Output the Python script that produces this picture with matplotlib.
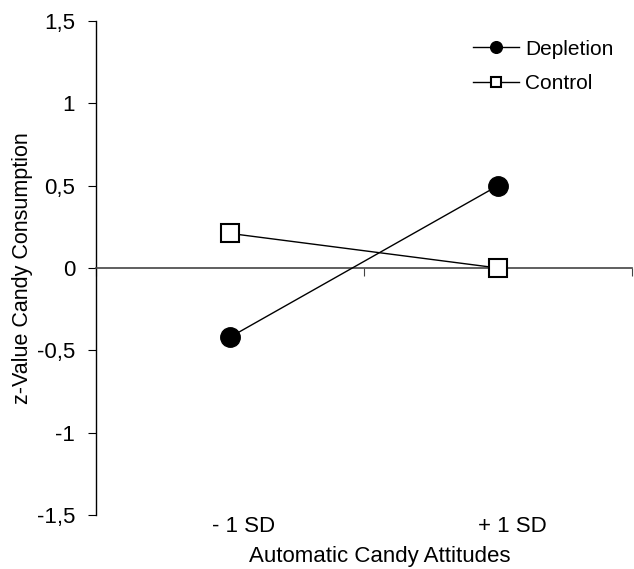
import numpy as np
import matplotlib.pyplot as plt
from matplotlib.transforms import ScaledTranslation

plt.rcParams['font.family'] = ['Liberation Sans', 'DejaVu Sans']

categories = ["- 1 SD", "+ 1 SD"]
depletion = [-0.42, 0.50]
control = [0.21, 0.0]
yticks = [-1.5, -1, -0.5, 0, 0.5, 1, 1.5]
ylabels = ["-1,5", "-1", "-0,5", "0", "0,5", "1", "1,5"]

fig = plt.figure(figsize=(6.34, 5.69), dpi=100)
ax = fig.add_axes([0.1514, 0.0949, 0.8454, 0.8682])

x = np.arange(len(categories)) + 0.5
ax.plot(x, depletion, color="black", lw=1, marker="o", ms=14,
        mfc="black", mec="black", label="Depletion", zorder=3)
ax.plot(x, control, color="black", lw=1, marker="s", ms=13,
        mfc="white", mec="black", mew=1.5, label="Control", zorder=3)

ax.set_xlim(0, len(categories))
ax.set_ylim(-1.5, 1.5)
ax.set_yticks(yticks)
ax.set_yticklabels(ylabels, fontsize=16)
ax.set_ylabel("z-Value Candy Consumption", fontsize=15.5, labelpad=3)

ax.spines["top"].set_visible(False)
ax.spines["right"].set_visible(False)
ax.spines["bottom"].set_position(("data", 0))
ax.spines["bottom"].set_color("#444444")
ax.spines["bottom"].set_linewidth(1.2)
ax.spines["left"].set_linewidth(1.0)
ax.set_xticks(np.arange(len(categories) + 1))
ax.set_xticklabels([])
ax.tick_params(axis="x", direction="out", length=6, color="#444444")
ax.tick_params(axis="y", direction="out", length=6, pad=9)

# category labels sit below the plot, slightly right of the points
sec = ax.secondary_xaxis("bottom")
sec.spines["bottom"].set_visible(False)
sec.set_xticks(x)
sec.set_xticklabels(categories, fontsize=16)
sec.tick_params(length=0, pad=1)
shift = ScaledTranslation(14 / 100, 0, fig.dpi_scale_trans)
for lab in sec.get_xticklabels():
    lab.set_transform(lab.get_transform() + shift)
sec.set_xlabel("Automatic Candy Attitudes", fontsize=16, labelpad=6)
sec.xaxis.label.set_x(0.53)

ax.legend(loc="upper right", frameon=False, fontsize=15, markerscale=0.6,
          handlelength=2.2, handletextpad=0.3, labelspacing=0.75,
          borderaxespad=0.5)

fig.savefig("out.png", dpi=100)
